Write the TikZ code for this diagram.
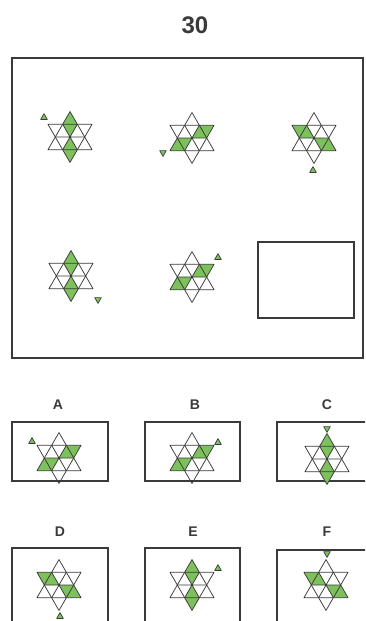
\documentclass[tikz,border=0pt]{standalone}
\usepackage{fontspec}
\setmainfont{Liberation Sans}
\definecolor{stargreen}{HTML}{7DC15C}
\definecolor{ink}{HTML}{3A3A3A}
\tikzset{
  starline/.style={draw=ink, line width=0.75pt, line join=round},
  framebox/.style={draw=ink, line width=1.1pt},
  marker/.style={fill=stargreen, draw=ink, line width=0.7pt, line join=round},
  lbl/.style={font=\bfseries\fontsize{14}{14}\selectfont, text=ink},
  titlelbl/.style={font=\bfseries\fontsize{24}{24}\selectfont, text=ink}
}
\def\sa{14.7}
\def\sb{25.46}
\newcommand{\drawstar}[3]{%
  \begin{scope}[shift={(#1,#2)}, yscale=-1]
    \foreach \t in {#3} {\fill[stargreen] (0,0) -- ({\t-30}:\sa) -- (\t:\sb) -- ({\t+30}:\sa) -- cycle;}
    \draw[starline] (90:\sb) -- (210:\sb) -- (330:\sb) -- cycle;
    \draw[starline] (270:\sb) -- (150:\sb) -- (30:\sb) -- cycle;
    \draw[starline] (180:\sa) -- (0:\sa) (120:\sa) -- (300:\sa) (60:\sa) -- (240:\sa);
  \end{scope}}
\newcommand{\mkup}[2]{\filldraw[marker,shift={(#1,#2)}] (0,-3.4) -- (3.3,2.4) -- (-3.3,2.4) -- cycle;}
\newcommand{\mkdn}[2]{\filldraw[marker,shift={(#1,#2)}] (0,3.4) -- (3.3,-2.4) -- (-3.3,-2.4) -- cycle;}
\begin{document}
\begin{tikzpicture}[x=1pt,y=-1pt]
  \useasboundingbox (0,0) rectangle (365,621);
  \clip (0,0) rectangle (365,621);
  \fill[white] (0,0) rectangle (365,621);
  \node[titlelbl] (title) at (195,25) {30};
  % main frame
  \draw[framebox] (12,58) rectangle (363,358);
  \draw[framebox] (258,242) rectangle (354,318);
  % sequence
  \drawstar{70}{137}{90,270}   \mkup{44}{117}
  \drawstar{192}{138}{30,210}  \mkdn{163}{153}
  \drawstar{314}{138}{150,330} \mkup{313}{170}
  \drawstar{71}{276}{90,270}   \mkdn{98}{300}
  \drawstar{192}{277}{30,210}  \mkup{218}{257}
  % options row 1
  \node[lbl] (la) at (58,405) {A};
  \node[lbl] (lb) at (195,405) {B};
  \node[lbl] (lc) at (327,405) {C};
  \draw[framebox] (12,422) rectangle (108,481);
  \draw[framebox] (145,422) rectangle (240,481);
  \draw[framebox] (277,422) rectangle (372,481);
  \drawstar{59}{458}{30,210}   \mkup{32}{441}
  \drawstar{192}{458}{30,210}  \mkup{218}{442}
  \drawstar{327}{459}{90,270}  \mkdn{327}{429}
  % options row 2
  \node[lbl] (ld) at (60,532) {D};
  \node[lbl] (le) at (193,532) {E};
  \node[lbl] (lf) at (327,532) {F};
  \draw[framebox] (12,548) rectangle (108,640);
  \draw[framebox] (145,548) rectangle (240,640);
  \draw[framebox] (277,550) rectangle (372,640);
  \drawstar{59}{585}{150,330}  \mkup{60}{616}
  \drawstar{192}{585}{90,270}  \mkup{218}{568}
  \drawstar{326}{585}{150,330} \mkdn{327}{554}
\end{tikzpicture}
\end{document}
